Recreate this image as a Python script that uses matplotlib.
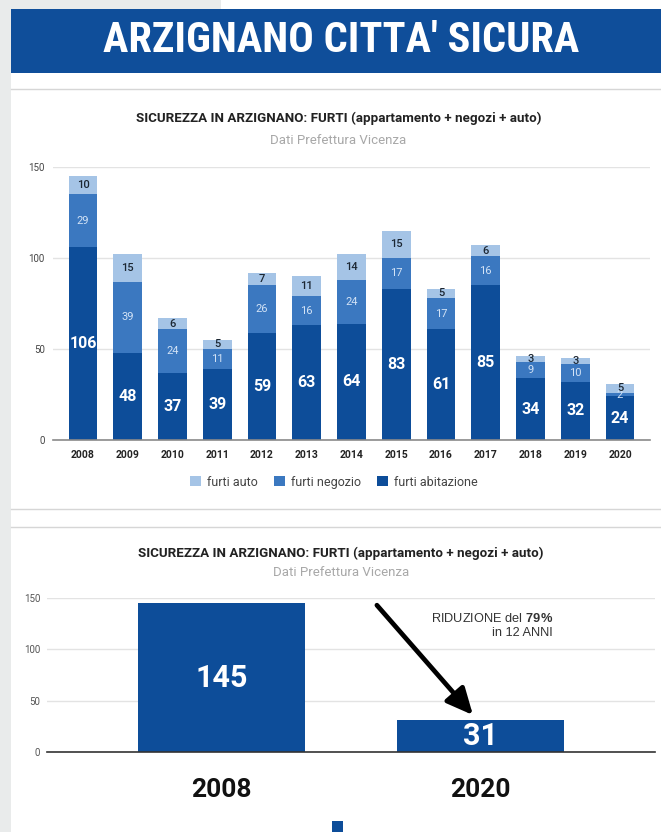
import matplotlib
matplotlib.use("Agg")
import matplotlib.pyplot as plt
from matplotlib.patches import Rectangle
import matplotlib.font_manager as fm
from matplotlib.font_manager import FontProperties

plt.rcParams['font.family'] = ['Roboto', 'DejaVu Sans']
plt.rcParams['mathtext.fontset'] = 'custom'
plt.rcParams['mathtext.rm'] = 'Liberation Sans'
plt.rcParams['mathtext.bf'] = 'Liberation Sans:bold'

# ---------------- data ----------------
years = ['2008', '2009', '2010', '2011', '2012', '2013', '2014',
         '2015', '2016', '2017', '2018', '2019', '2020']
furti_abitazione = [106, 48, 37, 39, 59, 63, 64, 83, 61, 85, 34, 32, 24]
furti_negozio = [29, 39, 24, 11, 26, 16, 24, 17, 17, 16, 9, 10, 2]
furti_auto = [10, 15, 6, 5, 7, 11, 14, 15, 5, 6, 3, 3, 5]

compare_years = ['2008', '2020']
compare_totals = [145, 31]

y_ticks = [0, 50, 100, 150]

header_title = "ARZIGNANO CITTA' SICURA"
chart_title = "SICUREZZA IN ARZIGNANO: FURTI (appartamento + negozi + auto)"
chart_subtitle = "Dati Prefettura Vicenza"
legend_labels = ['furti auto', 'furti negozio', 'furti abitazione']

# ---------------- style ----------------
C_DARK = '#0d4d99'
C_MID = '#3b78c0'
C_LIGHT = '#a5c4e6'
C_HEADER = '#0f4e9a'
C_GRID = '#e3e3e3'
C_SIDE = '#e9ebeb'


def pick_condensed():
    cands = [('Roboto Condensed', 'normal', None),
             ('Liberation Sans Narrow', 'normal', 'Narrow'),
             ('DejaVu Sans', 'condensed', 'Condensed'),
             ('Open Sans Condensed', 'condensed', None)]
    for fam, stretch, key in cands:
        try:
            p = fm.findfont(FontProperties(family=fam, weight='bold', stretch=stretch),
                            fallback_to_default=False)
        except Exception:
            continue
        if key is None or key.lower() in p.lower():
            return FontProperties(fname=p)
    return FontProperties(family='Roboto', weight='bold')


W, H = 661, 832
fig = plt.figure(figsize=(W / 100, H / 100), dpi=100)
fig.patch.set_facecolor('white')


def fx(px):
    return px / W


def fy(py):
    return 1 - py / H


# background decorations
fig.add_artist(Rectangle((0, 0), fx(11), 1, transform=fig.transFigure,
                         facecolor=C_SIDE, edgecolor='none', zorder=0))
fig.add_artist(Rectangle((0, fy(9)), fx(221), 9 / H, transform=fig.transFigure,
                         facecolor=C_SIDE, edgecolor='none', zorder=0))
fig.add_artist(Rectangle((fx(11), fy(73)), 1 - fx(11), 64 / H, transform=fig.transFigure,
                         facecolor=C_HEADER, edgecolor='none', zorder=1))
for yy in (89, 509, 527):
    fig.add_artist(plt.Line2D([fx(11), 1], [fy(yy), fy(yy)], transform=fig.transFigure,
                              color='#d6d6d6', lw=1.0, zorder=1))

hfp = pick_condensed()
hfp.set_size(30)
hdr = fig.text(fx(341), fy(41), header_title, ha='center', va='center', color='white',
               fontproperties=hfp, zorder=3)

# ---------------- top chart ----------------
ax1 = fig.add_axes([fx(53), fy(440), fx(650 - 53), (440 - 167) / H])
x = list(range(len(years)))
bw = 0.64
b1 = ax1.bar(x, furti_abitazione, width=bw, color=C_DARK, zorder=3)
bottom2 = furti_abitazione
b2 = ax1.bar(x, furti_negozio, width=bw, bottom=bottom2, color=C_MID, zorder=3)
bottom3 = [a + b for a, b in zip(furti_abitazione, furti_negozio)]
b3 = ax1.bar(x, furti_auto, width=bw, bottom=bottom3, color=C_LIGHT, zorder=3)

ax1.bar_label(b1, label_type='center', color='white', fontsize=11.5, fontweight='bold')
ax1.bar_label(b2, label_type='center', color='#d3e3f6', fontsize=8)
ax1.bar_label(b3, label_type='center', color='#1c2733', fontsize=8, fontweight='medium')

ax1.set_xlim(-0.67, len(years) - 1 + 0.67)
ax1.set_ylim(0, 150)
ax1.set_yticks(y_ticks)
ax1.set_xticks(x)
ax1.set_xticklabels(years, fontsize=7.5, fontweight='bold', color='#222222')
ax1.tick_params(axis='x', length=0, pad=7)
ax1.tick_params(axis='y', length=0, pad=6, labelsize=7, labelcolor='#444444')
ax1.grid(axis='y', color=C_GRID, lw=1, zorder=0)
ax1.set_axisbelow(True)
for s in ('top', 'right', 'left'):
    ax1.spines[s].set_visible(False)
ax1.spines['bottom'].set_color('#8a8a8a')
ax1.spines['bottom'].set_linewidth(1.2)
ax1.spines['bottom'].set_zorder(4)

fig.text(fx(338.5), fy(118), chart_title, ha='center', va='center', fontsize=9.6,
         fontweight='bold', color='#222222')
fig.text(fx(338), fy(140), chart_subtitle, ha='center', va='center', fontsize=9.5,
         color='#a8a8a8')

fig.legend([b3, b2, b1], legend_labels, loc='center', bbox_to_anchor=(fx(334), fy(482)),
           ncol=3, frameon=False, fontsize=9, handlelength=0.85, handleheight=0.85,
           handletextpad=0.5, columnspacing=1.3, labelcolor='#444444')

# ---------------- bottom chart ----------------
ax2 = fig.add_axes([fx(47), fy(752), fx(655 - 47), (752 - 598) / H])
x2 = list(range(len(compare_years)))
bb = ax2.bar(x2, compare_totals, width=0.645, color=C_DARK, zorder=3)
ax2.bar_label(bb, label_type='center', color='white', fontsize=22, fontweight='bold')
ax2.set_xlim(-0.674, 1.674)
ax2.set_ylim(0, 150)
ax2.set_yticks(y_ticks)
ax2.set_xticks(x2)
ax2.set_xticklabels(compare_years, fontsize=19, fontweight='bold', color='#111111')
ax2.tick_params(axis='x', length=0, pad=19)
ax2.tick_params(axis='y', length=0, pad=5, labelsize=7, labelcolor='#555555')
ax2.grid(axis='y', color=C_GRID, lw=1, zorder=0)
ax2.set_axisbelow(True)
for s in ('top', 'right', 'left'):
    ax2.spines[s].set_visible(False)
ax2.spines['bottom'].set_color('#333333')
ax2.spines['bottom'].set_linewidth(1.2)
ax2.spines['bottom'].set_zorder(4)

ax2.annotate('', xy=(0.971, 36), xytext=(0.60, 143),
             arrowprops=dict(arrowstyle='-|>,head_length=1.6,head_width=0.75',
                             lw=3.4, color='black', shrinkA=0, shrinkB=0), zorder=5)
ax2.text(1.28, 130.5, r'RIDUZIONE del$\ \bf{79\%}$', ha='right', va='center',
         fontsize=9.2, color='#333333', family=['Liberation Sans', 'DejaVu Sans'])
ax2.text(1.28, 115.5, 'in 12 ANNI', ha='right', va='center', fontsize=9.2, color='#333333',
         family=['Liberation Sans', 'DejaVu Sans'])

fig.text(fx(341), fy(553), chart_title, ha='center', va='center', fontsize=9.6,
         fontweight='bold', color='#222222')
fig.text(fx(341), fy(573), chart_subtitle, ha='center', va='center', fontsize=9.5,
         color='#a8a8a8')

fig.legend([bb], [''], loc='upper left', bbox_to_anchor=(fx(332), fy(821)),
           frameon=False, handlelength=0.8, handleheight=1.6, borderpad=0,
           borderaxespad=0)

# fit header width
fig.canvas.draw()
r = fig.canvas.get_renderer()
wpx = hdr.get_window_extent(r).width
hdr.set_fontsize(30 * 474 / wpx)

fig.savefig('out.png', dpi=100, facecolor='white')
